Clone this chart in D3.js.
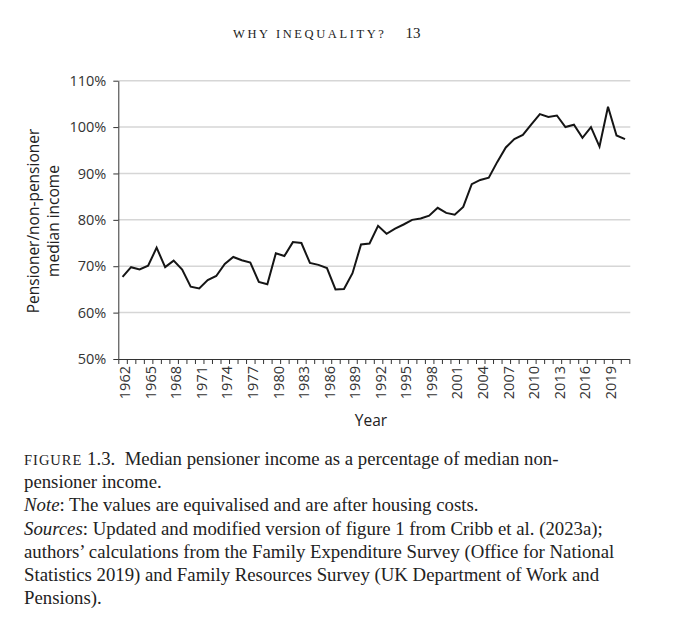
<!DOCTYPE html>
<html>
<head>
<meta charset="utf-8">
<script src="https://d3js.org/d3.v7.min.js"></script>
<style>
  body { margin: 0; background: #fff; }
  svg { display: block; }
</style>
</head>
<body>
<script>
// years shown on the x axis (one category per year)
var years = d3.range(1962, 2022);
// pensioner / non-pensioner median income, %
var values = [
  67.7, 69.8, 69.3, 70.1, 74.0, 69.8, 71.2, 69.3, 65.6, 65.2,
  67.0, 67.9, 70.5, 72.0, 71.3, 70.8, 66.6, 66.1, 72.8, 72.2,
  75.2, 75.0, 70.7, 70.3, 69.6, 65.0, 65.1, 68.5, 74.7, 74.9,
  78.7, 77.0, 78.1, 79.0, 80.0, 80.3, 80.9, 82.6, 81.5, 81.1,
  82.8, 87.7, 88.6, 89.1, 92.5, 95.6, 97.4, 98.3, 100.6, 102.8,
  102.2, 102.5, 100.0, 100.5, 97.7, 100.0, 95.8, 104.4, 98.2, 97.4
];
var yTicks = [50, 60, 70, 80, 90, 100, 110];
var labelYears = years.filter(function (d) { return (d - 1962) % 3 === 0; });

var captionLines = [
  [{ t: "FIGURE", sc: true }, { t: " 1.3.\u2002Median pensioner income as a percentage of median non-" }],
  [{ t: "pensioner income." }],
  [{ t: "Note", it: true }, { t: ": The values are equivalised and are after housing costs." }],
  [{ t: "Sources", it: true }, { t: ": Updated and modified version of figure 1 from Cribb et al. (2023a);" }],
  [{ t: "authors\u2019 calculations from the Family Expenditure Survey (Office for National" }],
  [{ t: "Statistics 2019) and Family Resources Survey (UK Department of Work and" }],
  [{ t: "Pensions)." }]
];

var W = 680, H = 632;
var plotL = 118.3, plotR = 629.3, plotT = 80.7, plotB = 359;

var svg = d3.select("body").append("svg")
  .attr("width", W)
  .attr("height", H);

svg.append("rect").attr("width", W).attr("height", H).attr("fill", "#fff");

// running head
svg.append("text")
  .attr("x", 233)
  .attr("y", 37.7)
  .style("font-family", "'Liberation Serif', serif")
  .style("font-size", "12.5px")
  .style("letter-spacing", "2.6px")
  .attr("fill", "#222")
  .text("WHY INEQUALITY?");
svg.append("text")
  .attr("x", 405.5)
  .attr("y", 37.7)
  .style("font-family", "'Liberation Serif', serif")
  .style("font-size", "15px")
  .attr("fill", "#222")
  .text("13");

// scales: a linear year scale so each year sits in the middle of its slot
var x = d3.scaleLinear()
  .domain([years[0] - 0.5, years[years.length - 1] + 0.5])
  .range([plotL, plotR]);
var y = d3.scaleLinear()
  .domain([50, 110])
  .range([plotB, plotT]);

// gridlines
svg.append("g")
  .selectAll("line")
  .data(yTicks.filter(function (d) { return d > 50; }))
  .join("line")
  .attr("x1", plotL)
  .attr("x2", plotR + 1)
  .attr("y1", function (d) { return y(d); })
  .attr("y2", function (d) { return y(d); })
  .attr("stroke", "#d6d6d6")
  .attr("stroke-width", 1.5);

var axisFont = "'Open Sans', 'Noto Sans', sans-serif";

// y axis
var gy = svg.append("g")
  .attr("transform", "translate(" + plotL + ",0)")
  .call(d3.axisLeft(y)
    .tickValues(yTicks)
    .tickSize(5)
    .tickPadding(7)
    .tickSizeOuter(0)
    .tickFormat(function (d) { return d + "%"; }));
gy.selectAll("text")
  .style("font-family", axisFont)
  .style("font-size", "14.5px")
  .attr("fill", "#333");
gy.selectAll("line, path").attr("stroke", "#333");

// x axis: tick marks at the edges of each year slot
var edges = years.map(function (d) { return d - 0.5; }).concat([years[years.length - 1] + 0.5]);
var gx = svg.append("g")
  .attr("transform", "translate(0," + plotB + ")")
  .call(d3.axisBottom(x)
    .tickValues(edges)
    .tickSize(5)
    .tickSizeOuter(0)
    .tickFormat(""));
gx.selectAll("line, path").attr("stroke", "#333");

// x labels every third year, rotated
var gl = svg.append("g")
  .attr("transform", "translate(0," + plotB + ")")
  .call(d3.axisBottom(x)
    .tickValues(labelYears)
    .tickSize(0)
    .tickFormat(d3.format("d")));
gl.select(".domain").remove();
gl.selectAll("text")
  .style("font-family", axisFont)
  .style("font-size", "14.5px")
  .attr("fill", "#333")
  .attr("text-anchor", "end")
  .attr("dy", "0.36em")
  .attr("transform", "translate(2,7) rotate(-90)")
  .attr("x", 0)
  .attr("y", 0);

// axis titles
svg.append("text")
  .attr("x", 371)
  .attr("y", 425.7)
  .attr("text-anchor", "middle")
  .style("font-family", axisFont)
  .style("font-size", "15.5px")
  .attr("fill", "#222")
  .text("Year");

var yt = svg.append("text")
  .attr("transform", "translate(39,221) rotate(-90)")
  .attr("text-anchor", "middle")
  .style("font-family", axisFont)
  .style("font-size", "15.5px")
  .attr("fill", "#222");
yt.append("tspan").attr("x", 0).attr("y", 0).text("Pensioner/non-pensioner");
yt.append("tspan").attr("x", 0).attr("y", 20).text("median income");

// the series
var line = d3.line()
  .x(function (d, i) { return x(years[i]); })
  .y(function (d) { return y(d); });
svg.append("path")
  .datum(values)
  .attr("d", line)
  .attr("fill", "none")
  .attr("stroke", "#151515")
  .attr("stroke-width", 2)
  .attr("stroke-linejoin", "miter");

// caption
var cap = svg.append("g")
  .style("font-family", "'Liberation Serif', 'DejaVu Serif', serif")
  .style("font-size", "18.8px")
  .attr("fill", "#222");
captionLines.forEach(function (parts, i) {
  var t = cap.append("text")
    .attr("x", 24)
    .attr("y", 465 + i * 23.2);
  parts.forEach(function (p) {
    var s = t.append("tspan").text(p.t);
    if (p.it) s.style("font-style", "italic");
    if (p.sc) s.style("font-size", "14.5px").style("letter-spacing", "1px");
  });
});
</script>
</body>
</html>
